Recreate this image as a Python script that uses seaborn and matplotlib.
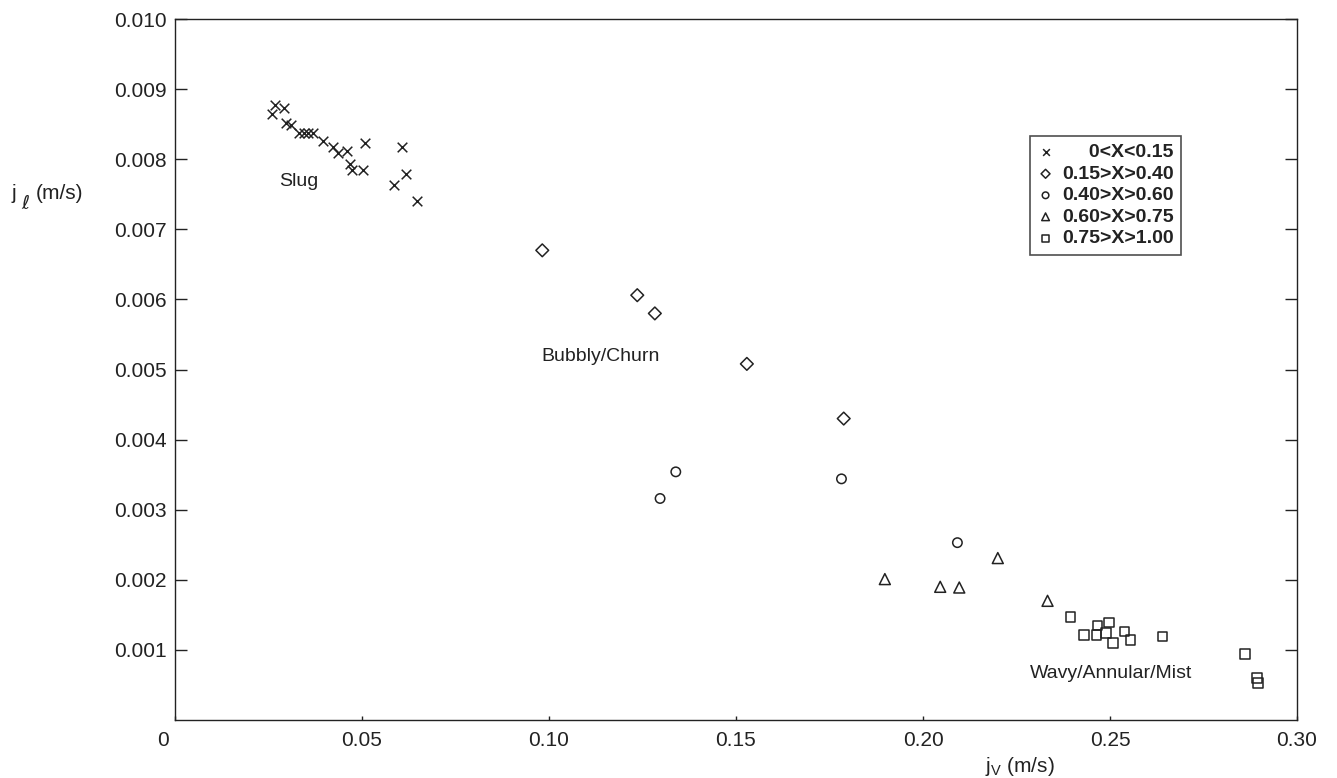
import numpy as np
import pandas as pd
import matplotlib
matplotlib.use('Agg')
import matplotlib.pyplot as plt
import matplotlib.transforms as mtransforms
import seaborn as sns

# quality ranges and their markers
groups = ['0<X<0.15', '0.15>X>0.40', '0.40>X>0.60', '0.60>X>0.75', '0.75>X>1.00']
markers = ['x', 'D', 'o', '^', 's']

# j_v (m/s) and j_l (m/s) for each group
jv_g1 = [0.0260, 0.0267, 0.0291, 0.0297, 0.0310, 0.0332, 0.0346, 0.0356, 0.0370,
         0.0397, 0.0422, 0.0437, 0.0459, 0.0508, 0.0468, 0.0472, 0.0502, 0.0606,
         0.0617, 0.0586, 0.0648]
jl_g1 = [0.00864, 0.00878, 0.00873, 0.00852, 0.00849, 0.00838, 0.00838, 0.00838,
         0.00838, 0.00826, 0.00818, 0.00809, 0.00811, 0.00823, 0.00793, 0.00785,
         0.00785, 0.00818, 0.00779, 0.00763, 0.00740]
jv_g2 = [0.0982, 0.1236, 0.1283, 0.1529, 0.1788]
jl_g2 = [0.00670, 0.00606, 0.00580, 0.00508, 0.00430]
jv_g3 = [0.1339, 0.1297, 0.1782, 0.2092]
jl_g3 = [0.00354, 0.00316, 0.00344, 0.00253]
jv_g4 = [0.1898, 0.2046, 0.2097, 0.2200, 0.2333]
jl_g4 = [0.00201, 0.00190, 0.00189, 0.00231, 0.00170]
jv_g5 = [0.2395, 0.2466, 0.2497, 0.2431, 0.2464, 0.2489, 0.2508, 0.2538, 0.2555,
         0.2640, 0.2861, 0.2893, 0.2896]
jl_g5 = [0.00147, 0.00135, 0.00139, 0.00121, 0.00121, 0.00124, 0.00110, 0.00126,
         0.00114, 0.00119, 0.00094, 0.00060, 0.00053]

xticks = [0, 0.05, 0.10, 0.15, 0.20, 0.25, 0.30]
xtick_labels = ['0', '0.05', '0.10', '0.15', '0.20', '0.25', '0.30']
yticks = [0.001, 0.002, 0.003, 0.004, 0.005, 0.006, 0.007, 0.008, 0.009, 0.010]
ytick_labels = ['0.001', '0.002', '0.003', '0.004', '0.005', '0.006', '0.007',
                '0.008', '0.009', '0.010']

regimes = ['Slug', 'Bubbly/Churn', 'Wavy/Annular/Mist']
regime_x = [0.0278, 0.098, 0.2286]
regime_y = [0.00768, 0.00518, 0.00067]

frames = []
for g, xs, ys in zip(groups, [jv_g1, jv_g2, jv_g3, jv_g4, jv_g5],
                     [jl_g1, jl_g2, jl_g3, jl_g4, jl_g5]):
    frames.append(pd.DataFrame({'jv': xs, 'jl': ys, 'group': g}))
df = pd.concat(frames, ignore_index=True)

sns.set_style('ticks')
plt.rcParams['font.family'] = ['Liberation Sans', 'DejaVu Sans']
plt.rcParams['mathtext.fontset'] = 'dejavusans'

ink = '#222222'
fig = plt.figure(figsize=(13.37, 7.78), dpi=100)
ax = fig.add_axes([175 / 1337, 58 / 778, 1122 / 1337, 701 / 778])

sizes = {'x': 48, 'D': 42, 'o': 46, '^': 62, 's': 46}
# pad the first label so the legend text lines up on the right
pads = ['     ', '', '', '', '']
for g, m, p in zip(groups, markers, pads):
    sub = df[df['group'] == g]
    if m == 'x':
        sns.scatterplot(data=sub, x='jv', y='jl', marker=m, s=sizes[m], color=ink,
                        linewidth=1.1, label=p + g, ax=ax)
    else:
        sns.scatterplot(data=sub, x='jv', y='jl', marker=m, s=sizes[m], color=ink,
                        facecolors='none', edgecolor=ink, linewidth=1.1,
                        label=p + g, ax=ax)

for t, x, y in zip(regimes, regime_x, regime_y):
    ax.text(x, y, t, ha='left', va='center', fontsize=14, color=ink)

ax.set_xlim(0, 0.30)
ax.set_ylim(0, 0.010)
ax.set_xticks(xticks)
ax.set_xticklabels(xtick_labels)
ax.set_yticks(yticks)
ax.set_yticklabels(ytick_labels)
ax.tick_params(axis='y', direction='in', length=8.5, width=1.0, color=ink,
               labelsize=15, pad=6, right=True, labelcolor=ink)
ax.tick_params(axis='x', direction='in', length=3, width=1.0, color=ink,
               labelsize=15, pad=8, labelcolor=ink)
# the "0" at the origin sits a little left of the corner
lab0 = ax.get_xticklabels()[0]
lab0.set_transform(lab0.get_transform() +
                   mtransforms.ScaledTranslation(-12 / 100, 0, fig.dpi_scale_trans))
for sp in ax.spines.values():
    sp.set_color(ink)
    sp.set_linewidth(1.0)
ax.set_xlabel('')
ax.set_ylabel('')

# y axis label: j, lowered script l, (m/s)
fig.text(12 / 1337, 1 - 199 / 778, 'j', fontsize=15, color=ink, va='baseline')
fig.text(21 / 1337, 1 - 209 / 778, '\u2113', fontsize=14, color=ink,
         va='baseline', family='DejaVu Sans')
fig.text(36 / 1337, 1 - 199 / 778, '(m/s)', fontsize=15, color=ink, va='baseline')
fig.text(985 / 1337, 1 - 772 / 778, r'j$_\mathregular{V}$ (m/s)', fontsize=15,
         color=ink, ha='left', va='baseline')

leg = ax.legend(loc='upper left', bbox_to_anchor=(1030 / 1337, 1 - 136 / 778),
                bbox_transform=fig.transFigure, frameon=True, fancybox=False,
                edgecolor=ink, prop={'weight': 'bold', 'size': 14},
                markerscale=0.7, handlelength=0.8, handletextpad=0.45,
                labelspacing=0.2, borderpad=0.4, borderaxespad=0)
leg.get_frame().set_linewidth(1.2)
for t in leg.get_texts():
    t.set_color(ink)

fig.savefig('out.png', dpi=100)
